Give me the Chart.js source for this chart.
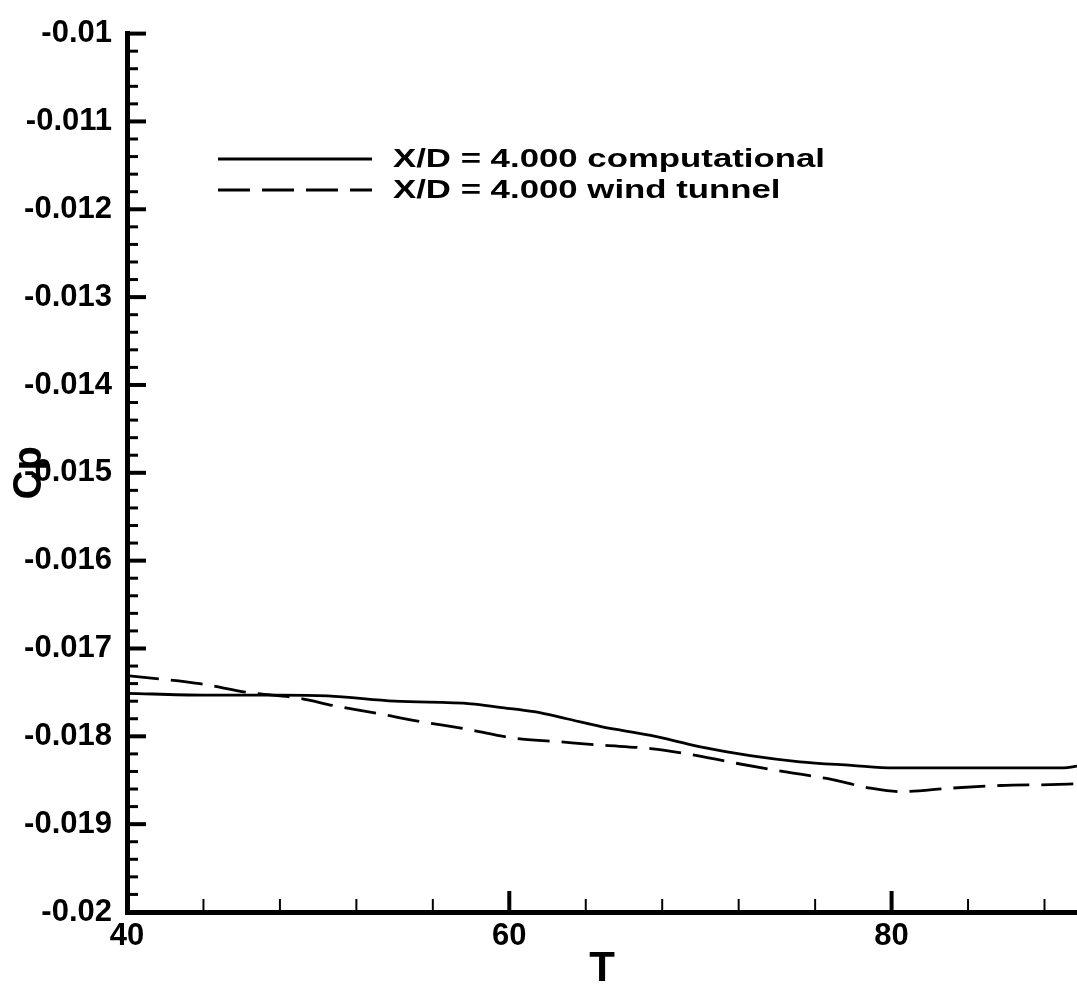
<!DOCTYPE html>
<html>
<head>
<meta charset="utf-8">
<script src="https://cdn.jsdelivr.net/npm/chart.js@4.4.0/dist/chart.umd.min.js"></script>
<style>
  body { margin: 0; background: #fff; }
  #wrap { width: 1077px; height: 990px; }
</style>
</head>
<body>
<div id="wrap"><canvas id="cpChart"></canvas></div>
<script>
// values
const tComp = [40, 44, 48, 50.5, 54, 58, 59.5, 61.3, 63, 64.8, 67.4, 70, 72.6, 75.2, 77.9, 80.1, 85, 89, 89.7];
const cpComp = [-0.01751, -0.01753, -0.01753, -0.01754, -0.0176, -0.01763, -0.01767, -0.01772, -0.0178, -0.01789, -0.01799, -0.01812, -0.01822, -0.01829, -0.01833, -0.01836, -0.01836, -0.01836, -0.01834];

const tWind = [40, 43.8, 46.3, 49.1, 50.8, 53.1, 55.3, 57.8, 60.2, 62.5, 64.8, 67.4, 69.6, 71.7, 74.3, 76.6, 78.9, 80.5, 83.1, 85.7, 88.3, 89.7];
const cpWind = [-0.01731, -0.0174, -0.0175, -0.01757, -0.01765, -0.01774, -0.01783, -0.01792, -0.01802, -0.01806, -0.0181, -0.01814, -0.01821, -0.0183, -0.0184, -0.01848, -0.01859, -0.01863, -0.01859, -0.01856, -0.01855, -0.01854];

const seriesLabels = ['X/D = 4.000 computational', 'X/D = 4.000 wind tunnel'];
const xMajorLabels = [40, 60, 80];
const yMajorLabels = [-0.02, -0.019, -0.018, -0.017, -0.016, -0.015, -0.014, -0.013, -0.012, -0.011, -0.01];

const toPoints = (xs, ys) => xs.map((x, i) => ({ x: x, y: ys[i] }));
const isMajorY = v => yMajorLabels.some(m => Math.abs(m - v) < 1e-7);
const isMajorX = v => xMajorLabels.some(m => Math.abs(m - v) < 1e-7);

// tick marks drawn inside the axes, long for labelled values
const innerTicks = {
  id: 'innerTicks',
  afterDraw(chart) {
    const ctx = chart.ctx;
    const area = chart.chartArea;
    const xs = chart.scales.x, ys = chart.scales.y;
    ctx.save();
    ctx.strokeStyle = '#000';
    ys.ticks.forEach(t => {
      const py = ys.getPixelForValue(t.value);
      const major = isMajorY(t.value);
      ctx.lineWidth = major ? 4 : 3;
      ctx.beginPath();
      ctx.moveTo(area.left, py);
      ctx.lineTo(area.left + (major ? 19 : 11), py);
      ctx.stroke();
    });
    xs.ticks.forEach(t => {
      const px = xs.getPixelForValue(t.value);
      const major = isMajorX(t.value);
      ctx.lineWidth = major ? 4 : 2;
      ctx.beginPath();
      ctx.moveTo(px, area.bottom);
      ctx.lineTo(px, area.bottom - (major ? 21 : 13));
      ctx.stroke();
    });
    ctx.restore();
  }
};

// legend without frame, like the original plot
const plotLegend = {
  id: 'plotLegend',
  afterDraw(chart) {
    const ctx = chart.ctx;
    const rows = [159, 190];
    ctx.save();
    ctx.font = 'bold 26px "Liberation Sans", Arial, sans-serif';
    ctx.textBaseline = 'middle';
    ctx.fillStyle = '#000';
    const natural = ctx.measureText(chart.data.datasets[0].label).width;
    const sx = 432 / natural;
    chart.data.datasets.forEach((ds, i) => {
      const y = rows[i];
      ctx.strokeStyle = ds.borderColor;
      ctx.lineWidth = ds.borderWidth;
      ctx.setLineDash(ds.borderDash || []);
      ctx.beginPath();
      ctx.moveTo(218, y);
      ctx.lineTo(372, y);
      ctx.stroke();
      ctx.setLineDash([]);
      ctx.save();
      ctx.translate(393, y + 1);
      ctx.scale(sx, 1);
      ctx.fillText(ds.label, 0, 0);
      ctx.restore();
    });
    ctx.restore();
  }
};

const tickFont = { family: '"Liberation Sans", Arial, sans-serif', size: 31, weight: 'bold' };

const ctx = document.getElementById('cpChart').getContext('2d');
const cpChart = new Chart(ctx, {
  type: 'scatter',
  data: {
    datasets: [
      {
        label: seriesLabels[0],
        data: toPoints(tComp, cpComp),
        showLine: true,
        borderColor: '#000',
        borderWidth: 2.8,
        pointRadius: 0,
        cubicInterpolationMode: 'monotone'
      },
      {
        label: seriesLabels[1],
        data: toPoints(tWind, cpWind),
        showLine: true,
        borderColor: '#000',
        borderWidth: 2.8,
        borderDash: [32, 12],
        pointRadius: 0,
        cubicInterpolationMode: 'monotone'
      }
    ]
  },
  options: {
    responsive: true,
    maintainAspectRatio: false,
    animation: false,
    layout: { padding: { top: 23, right: 0, bottom: 0, left: 0 } },
    plugins: {
      legend: { display: false },
      tooltip: { enabled: false }
    },
    scales: {
      x: {
        type: 'linear',
        min: 40,
        max: 89.7,
        afterFit: s => { s.height = 78; },
        grid: { display: false, drawTicks: false },
        border: { display: true, color: '#000', width: 5 },
        ticks: {
          stepSize: 4,
          includeBounds: false,
          autoSkip: false,
          maxRotation: 0,
          padding: 6,
          color: '#000',
          font: tickFont,
          callback: v => isMajorX(v) ? String(v) : ''
        },
        title: {
          display: true,
          text: 'T',
          color: '#000',
          padding: 0,
          font: { family: '"Liberation Sans", Arial, sans-serif', size: 42, weight: 'bold', lineHeight: 1 }
        }
      },
      y: {
        type: 'linear',
        min: -0.02,
        max: -0.01,
        afterFit: s => { s.width = 127; },
        grid: { display: false, drawTicks: false },
        border: { display: true, color: '#000', width: 5 },
        ticks: {
          stepSize: 0.0002,
          maxTicksLimit: 100,
          autoSkip: false,
          padding: 15,
          color: '#000',
          font: tickFont,
          callback: v => isMajorY(v) ? String(+v.toFixed(3)) : ''
        },
        title: {
          display: true,
          text: 'Cp',
          color: '#000',
          padding: { top: 6, bottom: 0 },
          font: { family: '"Liberation Sans", Arial, sans-serif', size: 40, weight: 'bold' }
        }
      }
    }
  },
  plugins: [innerTicks, plotLegend]
});
</script>
</body>
</html>
